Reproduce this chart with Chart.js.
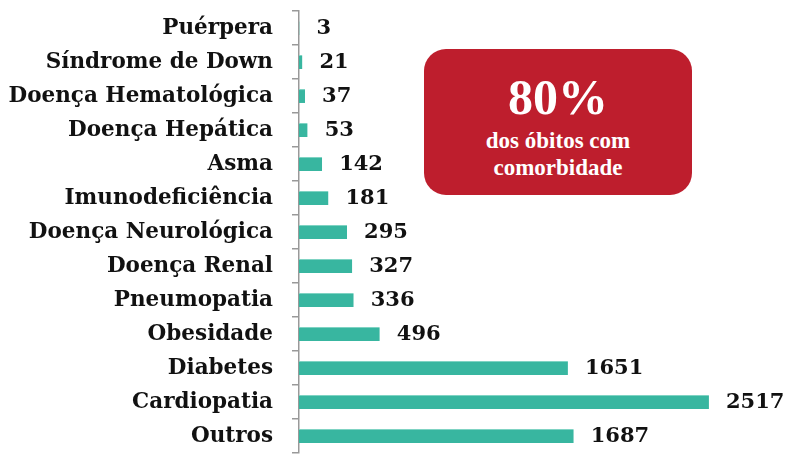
<!DOCTYPE html>
<html>
<head>
<meta charset="utf-8">
<script src="https://cdn.jsdelivr.net/npm/chart.js@4/dist/chart.umd.min.js"></script>
<style>
    html, body { margin: 0; padding: 0; background: #fff; }
    #wrap { position: relative; width: 788px; height: 454px; }
    #note {
        position: absolute; left: 424px; top: 49px; width: 268px; height: 146px;
        background: #BE1E2D; border-radius: 22px; color: #fff; text-align: center;
        font-family: "Liberation Serif", serif; font-weight: bold;
    }
    #note .big { font-size: 50px; line-height: 50px; margin-top: 23px; }
    #note .small { font-size: 23px; line-height: 27px; margin-top: 5px; }
</style>
</head>
<body>
<div id="wrap">
    <canvas id="chart" width="788" height="454"></canvas>
    <div id="note">
        <div class="big">80%</div>
        <div class="small">dos óbitos com<br>comorbidade</div>
    </div>
</div>
<script>
const categories = ['Puérpera', 'Síndrome de Down', 'Doença Hematológica', 'Doença Hepática', 'Asma',
    'Imunodeficiência', 'Doença Neurológica', 'Doença Renal', 'Pneumopatia', 'Obesidade',
    'Diabetes', 'Cardiopatia', 'Outros'];
const obitos = [3, 21, 37, 53, 142, 181, 295, 327, 336, 496, 1651, 2517, 1687];

const FONT = '"DejaVu Serif", serif';

// value labels at the end of each bar
const valueLabels = {
    id: 'valueLabels',
    afterDatasetsDraw(chart) {
        const ctx = chart.ctx;
        const meta = chart.getDatasetMeta(0);
        ctx.save();
        ctx.font = 'bold 21px ' + FONT;
        ctx.fillStyle = '#111';
        ctx.textAlign = 'left';
        ctx.textBaseline = 'middle';
        meta.data.forEach((bar, i) => {
            ctx.fillText(String(obitos[i]), bar.x + 17, bar.y + 1);
        });
        ctx.restore();
    }
};

new Chart(document.getElementById('chart'), {
    type: 'bar',
    data: {
        labels: categories,
        datasets: [{
            data: obitos,
            backgroundColor: '#38B6A0',
            borderColor: '#7FD3C3',
            borderWidth: { top: 1, right: 0, bottom: 0, left: 0 },
            categoryPercentage: 1,
            barPercentage: 0.41
        }]
    },
    options: {
        indexAxis: 'y',
        responsive: false,
        animation: false,
        layout: { padding: { top: 11, bottom: 1, right: 33, left: 0 } },
        plugins: { legend: { display: false }, tooltip: { enabled: false } },
        scales: {
            x: { display: false, min: 0, max: 2800 },
            y: {
                afterFit(scale) {
                    scale.width = 299;
                    scale.paddingTop = 0;
                    scale.paddingBottom = 0;
                },
                border: { display: true, color: '#999', width: 1.5 },
                grid: { display: true, drawOnChartArea: false, drawTicks: true, tickLength: 7, color: '#999', lineWidth: 1.5 },
                ticks: { color: '#111', padding: 19, font: { family: FONT, weight: 'bold', size: 21.5 } }
            }
        }
    },
    plugins: [valueLabels]
});
</script>
</body>
</html>
